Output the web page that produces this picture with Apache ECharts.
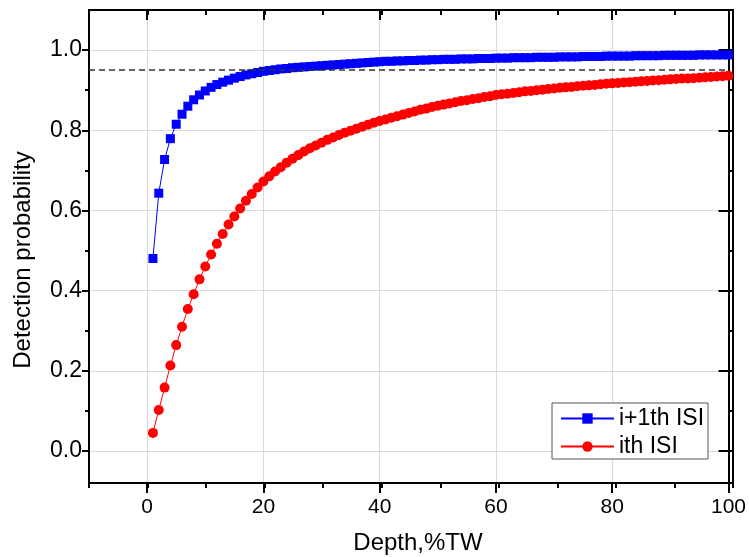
<!DOCTYPE html>
<html><head><meta charset="utf-8">
<script src="https://cdn.jsdelivr.net/npm/echarts@6/dist/echarts.min.js"></script>
<style>html,body{margin:0;padding:0;background:#fff}#c{width:749px;height:557px}</style>
</head><body><div id="c"></div>
<script>
const depth = [1,2,3,4,5,6,7,8,9,10,11,12,13,14,15,16,17,18,19,20,21,22,23,24,25,26,27,28,29,30,31,32,33,34,35,36,37,38,39,40,41,42,43,44,45,46,47,48,49,50,51,52,53,54,55,56,57,58,59,60,61,62,63,64,65,66,67,68,69,70,71,72,73,74,75,76,77,78,79,80,81,82,83,84,85,86,87,88,89,90,91,92,93,94,95,96,97,98,99,100];
const nextISI = [0.480,0.643,0.727,0.779,0.815,0.840,0.860,0.876,0.888,0.898,
 0.907,0.914,0.920,0.925,0.930,0.934,0.938,0.941,0.944,0.947,
 0.949,0.951,0.953,0.954,0.956,0.957,0.958,0.959,0.960,0.961,
 0.962,0.963,0.964,0.965,0.966,0.967,0.968,0.969,0.970,0.971,
 0.972,0.972,0.973,0.973,0.974,0.974,0.975,0.975,0.976,0.976,
 0.977,0.977,0.977,0.978,0.978,0.978,0.979,0.979,0.979,0.980,
 0.980,0.980,0.981,0.981,0.981,0.981,0.982,0.982,0.982,0.982,
 0.983,0.983,0.983,0.983,0.984,0.984,0.984,0.984,0.985,0.985,
 0.985,0.985,0.985,0.986,0.986,0.986,0.986,0.986,0.987,0.987,
 0.987,0.987,0.987,0.987,0.988,0.988,0.988,0.988,0.988,0.988];
const thisISI = [0.045,0.102,0.158,0.213,0.264,0.310,0.354,0.391,0.428,0.460,
 0.490,0.517,0.541,0.565,0.585,0.605,0.624,0.641,0.657,0.672,
 0.685,0.697,0.708,0.719,0.729,0.738,0.747,0.755,0.762,0.769,
 0.776,0.782,0.788,0.794,0.799,0.804,0.809,0.814,0.819,0.823,
 0.827,0.831,0.835,0.839,0.843,0.847,0.851,0.854,0.858,0.861,
 0.864,0.867,0.870,0.873,0.875,0.878,0.880,0.883,0.885,0.888,
 0.890,0.891,0.893,0.895,0.897,0.898,0.900,0.901,0.903,0.904,
 0.906,0.907,0.908,0.910,0.911,0.912,0.913,0.915,0.916,0.917,
 0.918,0.919,0.920,0.921,0.922,0.923,0.924,0.925,0.926,0.927,
 0.928,0.929,0.929,0.930,0.931,0.932,0.933,0.934,0.935,0.936];
const threshold = 0.95;
const seriesNames = ['i+1th ISI', 'ith ISI'];
const xMajorTicks = [0,20,40,60,80,100];
const xMinorTicks = [-10,0,10,20,30,40,50,60,70,80,90,100];
const yMajorTicks = [0,0.2,0.4,0.6,0.8,1.0];
const yMinorTicks = [0,0.1,0.2,0.3,0.4,0.5,0.6,0.7,0.8,0.9,1.0];
const xName = 'Depth,%TW';
const yName = 'Detection probability';

const FONT = '"Liberation Sans", Arial, sans-serif';
const gridRect = {left: 89, right: 16, top: 10, bottom: 74};
const XMIN = -10, XMAX = 100, YMIN = -0.08, YMAX = 1.1;

function xAx(gridIndex, position, ticks, len, inside, opts) {
  return Object.assign({
    type: 'value', gridIndex, position, min: XMIN, max: XMAX,
    axisLine: {show: true, onZero: false, lineStyle: {color: '#000', width: 2}},
    axisTick: {show: true, inside, length: len, customValues: ticks, lineStyle: {color: '#000', width: 2}},
    axisLabel: {show: false},
    splitLine: {show: false}
  }, opts || {});
}
function yAx(gridIndex, position, ticks, len, inside, opts) {
  return Object.assign({
    type: 'value', gridIndex, position, min: YMIN, max: YMAX,
    axisLine: {show: true, onZero: false, lineStyle: {color: '#000', width: 2}},
    axisTick: {show: true, inside, length: len, customValues: ticks, lineStyle: {color: '#000', width: 2}},
    axisLabel: {show: false},
    splitLine: {show: false}
  }, opts || {});
}

const chart = echarts.init(document.getElementById('c'), null, {renderer: 'canvas'});
chart.setOption({
  animation: false,
  backgroundColor: '#fff',
  grid: [Object.assign({}, gridRect), Object.assign({}, gridRect)],
  xAxis: [
    xAx(0, 'bottom', xMajorTicks, 10, false, {
      axisLabel: {show: true, customValues: xMajorTicks, margin: 14, fontSize: 21, color: '#000', fontFamily: FONT},
      splitLine: {show: true, lineStyle: {color: '#d9d9d9', width: 1}}
    }),
    xAx(0, 'top', xMajorTicks, 10, true),
    xAx(1, 'bottom', xMinorTicks, 5, false),
    xAx(1, 'top', xMinorTicks, 5, true)
  ],
  yAxis: [
    yAx(0, 'left', yMajorTicks, 7, false, {
      axisLabel: {show: true, customValues: yMajorTicks, margin: 7, fontSize: 23, color: '#000', fontFamily: FONT,
        formatter: v => v.toFixed(1)},
      splitLine: {show: true, lineStyle: {color: '#d9d9d9', width: 1}}
    }),
    yAx(0, 'right', yMajorTicks, 10, true),
    yAx(1, 'left', yMinorTicks, 4, false),
    yAx(1, 'right', yMinorTicks, 5, true)
  ],
  legend: {
    data: seriesNames,
    orient: 'vertical', left: 552, top: 403,
    itemWidth: 53, itemHeight: 13, itemGap: 5,
    padding: [4, 4, 1, 8],
    borderColor: '#555', borderWidth: 1, borderRadius: 0,
    backgroundColor: '#fff',
    textStyle: {fontSize: 23, color: '#000', fontFamily: FONT}
  },
  graphic: [
    {type: 'text', x: 23, y: 260, rotation: Math.PI / 2,
      style: {text: yName, fontSize: 24, fontFamily: FONT, fill: '#000', align: 'center', verticalAlign: 'middle'}},
    {type: 'text', x: 418, y: 543,
      style: {text: xName, fontSize: 24, fontFamily: FONT, fill: '#000', align: 'center', verticalAlign: 'middle'}}
  ],
  series: [
    {
      name: seriesNames[0], type: 'line', xAxisIndex: 0, yAxisIndex: 0,
      data: depth.map((d, i) => [d, nextISI[i]]),
      symbol: 'rect', symbolSize: 9, showAllSymbol: true,
      lineStyle: {color: '#0000ff', width: 1},
      itemStyle: {color: '#0000ff'},
      z: 3,
      markLine: {
        silent: true, symbol: 'none', label: {show: false},
        lineStyle: {color: '#333', type: [6, 4], width: 1.5},
        data: [{yAxis: threshold}]
      }
    },
    {
      name: seriesNames[1], type: 'line', xAxisIndex: 0, yAxisIndex: 0,
      data: depth.map((d, i) => [d, thisISI[i]]),
      symbol: 'circle', symbolSize: 10, showAllSymbol: true,
      lineStyle: {color: '#ff0000', width: 1},
      itemStyle: {color: '#ff0000'},
      z: 2
    }
  ]
});
</script>
</body></html>
